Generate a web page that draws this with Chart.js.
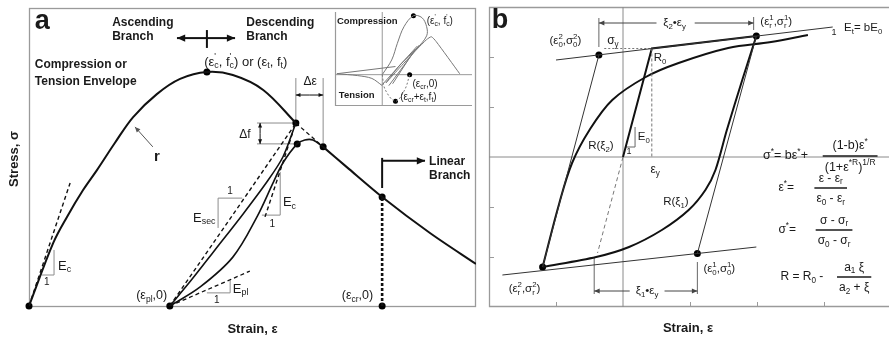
<!DOCTYPE html>
<html>
<head>
<meta charset="utf-8">
<title>Concrete and steel hysteresis models</title>
<script src="https://cdn.jsdelivr.net/npm/chart.js@4.4.1/dist/chart.umd.min.js"></script>
<style>
  html, body { margin:0; padding:0; background:#fff; }
  body { width:889px; height:339px; overflow:hidden; position:relative; }
  .panel { position:absolute; }
  canvas { display:block; }
</style>
</head>
<body>
<div class="panel" style="left:0;top:0"><canvas id="panelA" width="480" height="339"></canvas></div>
<div class="panel" style="left:480px;top:0"><canvas id="panelB" width="415" height="339"></canvas></div>
<div class="panel" style="left:331px;top:8px"><canvas id="inset" width="145" height="102"></canvas></div>
<script>
// ---- panel a : concrete model (strain, stress in arbitrary units) ----
var envelopeRise = [[0,0],[0.54,2.11],[0.85,2.99],[1.21,3.89],[1.52,4.56],[1.92,5.47],[2.33,6.34],[2.86,7.11],[3.38,7.62],[3.98,7.85],[4.56,7.75],[5.24,7.25],[5.97,6.14]];
var envelopeShift = [[5.97,6.14],[6.58,5.34]];
var envelopeFall = [[6.58,5.34],[7.11,4.66],[7.9,3.66],[8.97,2.45],[10,1.41]];
var unloading = [[5.97,6.14],[5.68,5.0],[5.32,4.16],[4.79,3.09],[4.16,1.88],[3.6,0.81],[3.15,0]];
var reloading = [[3.15,0],[3.83,0.64],[4.56,1.64],[5.1,2.99],[5.46,4.13],[5.68,4.8],[6.0,5.44],[6.17,5.57],[6.35,5.57],[6.58,5.34]];
var tangentInitial = [[0,0],[0.92,4.13]];
var secantLine = [[3.15,0],[5.93,6.04]];
var tangentReload = [[5.28,2.99],[5.91,5.87]];
var tangentPlastic = [[3.15,0],[4.94,1.17]];
var crackLine = [[7.9,0],[7.9,3.66]];
var keyPointsA = [[0,0],[3.98,7.85],[5.97,6.14],[6.0,5.44],[6.58,5.34],[7.9,3.66],[3.15,0],[7.9,0]];

// ---- inset : cyclic compression / tension ----
var insetLoop = [[0,0],[0.2,0.47],[0.32,1.0],[0.46,1.53],[0.66,1.88],[0.84,1.82],[0.94,1.53],[0.94,1.24],[0.74,0.85],[0.38,0.32],[0.08,-0.26]];
var insetSecondPeak = [[0.08,-0.26],[0.38,0.24],[0.74,0.82],[0.94,1.12],[1.04,1.21],[1.14,1.06],[1.64,0.03]];
var insetFanA = [[0,-0.32],[0.74,0.91]];
var insetFanB = [[0.14,-0.35],[0.78,0.94]];
var insetFanC = [[0.22,-0.29],[0.7,0.82]];
var insetTensionLow = [[-0.96,0.03],[-0.52,-0.03],[-0.22,-0.12],[0,-0.35]];
var insetTensionHigh = [[-0.96,0.03],[0.28,0.26]];
var insetTensionDrop = [[0,0],[0.06,-0.47],[0.28,-0.85],[0.48,-0.47],[0.58,0]];
var insetPoints = [[0.66,1.88],[0.58,0],[0.28,-0.85]];

// ---- panel b : Menegotto-Pinto steel ----
var asymptoteTop = [[-1.0,1.94],[3.13,2.6]];
var asymptoteBottom = [[-1.8,-2.36],[1.99,-1.8]];
var reversal2 = [[-0.36,2.04],[-1.2,-2.2]];
var reversal1 = [[1.11,-1.93],[1.99,2.42]];
var elasticBranch = [[0,0],[0.43,2.17],[1.99,2.42]];
var elasticExtension = [[0,0],[-0.38,-1.92]];
var yieldStressLine = [[-0.28,2.17],[0.43,2.17]];
var yieldStrainLine = [[0.43,2.17],[0.43,0]];
var curveXi2 = [[-1.2,-2.2],[-0.95,-0.92],[-0.76,-0.12],[-0.5,0.54],[-0.16,1.14],[0.34,1.6],[0.83,1.88],[1.57,2.18],[2.21,2.3],[2.76,2.44]];
var curveXi1 = [[-1.2,-2.2],[-0.4,-2.0],[0.09,-1.8],[0.58,-1.46],[0.98,-1.06],[1.23,-0.66],[1.38,-0.26],[1.55,0.54],[1.78,1.54],[1.99,2.42]];
var keyPointsB = [[-0.36,2.04],[-1.2,-2.2],[1.99,2.42],[1.11,-1.93]];
var tickStrain = [-1,1,2,3];
var tickStress = [-2,-1,1,2];

var FONT = '"Liberation Sans", Arial, Helvetica, sans-serif';
var INK = '#111';
var GREY = '#8c8c8c';

// annotations, panel a
var guidesA = [
  [[0.56,1.88],[0.56,1.04],[0.29,1.04]],
  [[4.23,2.62],[4.23,3.62],[4.77,3.62]],
  [[5.62,4.5],[5.62,3.05],[5.21,3.05]],
  [[4.5,0.87],[4.5,0.44],[3.98,0.44]],
  [[5.97,7.65],[5.97,6.24]],
  [[6.58,7.65],[6.58,5.47]],
  [[5.1,6.14],[5.97,6.14]],
  [[5.1,5.44],[6.0,5.44]]
];
var barsA = [[[3.98,9.26],[3.98,8.66]], [[7.9,4.97],[7.9,3.96]]];
var arrowsA = [
  {from:[3.98,8.99], to:[3.31,8.99], w:2, head:9},
  {from:[3.98,8.99], to:[4.61,8.99], w:2, head:9},
  {from:[6.28,7.08], to:[5.97,7.08], w:1, head:5},
  {from:[6.28,7.08], to:[6.58,7.08], w:1, head:5},
  {from:[5.17,5.79], to:[5.17,6.14], w:1, head:5},
  {from:[5.17,5.79], to:[5.17,5.44], w:1, head:5},
  {from:[2.77,5.34], to:[2.37,6.01], w:1, head:6, color:'#555'},
  {from:[7.9,4.87], to:[8.86,4.87], w:2, head:9}
];
var labelsA = [
  {text:'a', at:[0.13,9.56], size:27, weight:'bold'},
  {text:'Ascending', at:[1.86,9.5], size:12, weight:'bold'},
  {text:'Branch', at:[1.86,9.03], size:12, weight:'bold'},
  {text:'Descending', at:[4.86,9.5], size:12, weight:'bold'},
  {text:'Branch', at:[4.86,9.03], size:12, weight:'bold'},
  {text:"(ε^{'}_{c}, f^{'}_{c}) or (ε_{t}, f_{t})", at:[3.92,8.19], size:13},
  {text:'Compression or', at:[0.13,8.09], size:12, weight:'bold'},
  {text:'Tension Envelope', at:[0.13,7.52], size:12, weight:'bold'},
  {text:'r', at:[2.86,5.0], size:15, weight:'bold', align:'center'},
  {text:'Δε', at:[6.29,7.52], size:12, align:'center'},
  {text:'Δf', at:[4.83,5.74], size:12, align:'center'},
  {text:'E_{sec}', at:[3.67,2.95], size:13},
  {text:'1', at:[4.5,3.86], size:10, align:'center'},
  {text:'E_{c}', at:[5.68,3.46], size:13},
  {text:'1', at:[5.44,2.75], size:10, align:'center'},
  {text:'E_{pl}', at:[4.56,0.57], size:13},
  {text:'1', at:[4.2,0.2], size:10, align:'center'},
  {text:'E_{c}', at:[0.65,1.34], size:13},
  {text:'1', at:[0.4,0.8], size:10, align:'center'},
  {text:'(ε_{pl},0)', at:[3.09,0.34], size:12.5, align:'right'},
  {text:'(ε_{cr},0)', at:[7.7,0.34], size:12.5, align:'right'},
  {text:'Linear', at:[8.95,4.83], size:12, weight:'bold'},
  {text:'Branch', at:[8.95,4.36], size:12, weight:'bold'}
];
var labelsInset = [
  {text:'Compression', at:[-0.96,1.71], size:9.5, weight:'bold'},
  {text:'Tension', at:[-0.92,-0.65], size:9.5, weight:'bold'},
  {text:"(ε^{'}_{c}, f^{'}_{c})", at:[0.94,1.71], size:10},
  {text:'(ε_{cr},0)', at:[0.64,-0.29], size:10},
  {text:'(ε_{cr}+ε_{t},f_{t})', at:[0.38,-0.71], size:10}
];

// annotations, panel b
var guidesB = [
  [[-0.36,2.78],[-0.36,2.2]], [[1.95,2.8],[1.95,2.54]],
  [[-0.43,-2.02],[-0.43,-2.74]], [[1.11,-2.1],[1.11,-2.74]],
  [[0.04,0.2],[0.18,0.2],[0.18,0.6]]
];
var dimsB = [
  {y:2.68, from:-0.36, to:1.95, gap:[0.5,1.07]},
  {y:-2.68, from:-0.43, to:1.11, gap:[0.1,0.62]}
];
var labelsB = [
  {text:'b', at:[-1.96,2.72], size:27, weight:'bold'},
  {text:'(ε_{0}^{2},σ_{0}^{2})', at:[-0.86,2.32], size:11.5, align:'center'},
  {text:'σ_{y}', at:[-0.15,2.32], size:12, align:'center'},
  {text:'R_{0}', at:[0.46,1.98], size:11.5},
  {text:'E_{0}', at:[0.22,0.4], size:11.5},
  {text:'1', at:[0.09,0.1], size:9, align:'center'},
  {text:'ε_{y}', at:[0.48,-0.26], size:12, align:'center'},
  {text:'R(ξ_{2})', at:[-0.33,0.22], size:11.5, align:'center'},
  {text:'R(ξ_{1})', at:[0.79,-0.9], size:11.5, align:'center'},
  {text:'(ε_{0}^{1},σ_{0}^{1})', at:[1.2,-2.24], size:11.5},
  {text:'(ε_{r}^{2},σ_{r}^{2})', at:[-1.47,-2.64], size:11.5, align:'center'},
  {text:'(ε_{r}^{1},σ_{r}^{1})', at:[2.05,2.7], size:11.5},
  {text:'1', at:[3.15,2.48], size:9, align:'center'},
  {text:'E_{t}= bE_{0}', at:[3.3,2.58], size:11.5},
  {text:'ξ_{2}•ε_{y}', at:[0.77,2.68], size:11.5, align:'center'},
  {text:'ξ_{1}•ε_{y}', at:[0.36,-2.68], size:11.5, align:'center'}
];
var formulasB = [
  {lhs:'σ^{*}= bε^{*}+', at:[2.09,0.02], num:'(1-b)ε^{*}', den:'(1+ε^{*R})^{1/R}', bar:[3.39,0.02], size:12.5},
  {lhs:'ε^{*}=', at:[2.32,-0.62], num:'ε - ε_{r}', den:'ε_{0} - ε_{r}', bar:[3.1,-0.62], size:12},
  {lhs:'σ^{*}=', at:[2.32,-1.46], num:'σ - σ_{r}', den:'σ_{0} - σ_{r}', bar:[3.15,-1.46], size:12},
  {lhs:'R = R_{0} -', at:[2.35,-2.4], num:'a_{1} ξ', den:'a_{2} + ξ', bar:[3.45,-2.4], size:12}
];

// ---------- helpers ----------
function pts(arr){ return arr.map(function(p){ return {x:p[0], y:p[1]}; }); }
function curve(arr, color, width, dash, tension){
  return {data:pts(arr), showLine:true, borderColor:color, borderWidth:width, borderDash:dash || [],
          pointRadius:0, tension:tension || 0, fill:false};
}
function dots(arr, r){
  return {data:pts(arr), showLine:false, pointRadius:r, backgroundColor:'#000', borderWidth:0, clip:false};
}
function baseOptions(pad, xr, yr){
  return {
    responsive:false, animation:false, events:[],
    layout:{padding:pad},
    plugins:{legend:{display:false}, tooltip:{enabled:false}},
    scales:{
      x:{type:'linear', min:xr[0], max:xr[1], display:false},
      y:{type:'linear', min:yr[0], max:yr[1], display:false}
    }
  };
}
function toPx(chart, p){ return [chart.scales.x.getPixelForValue(p[0]), chart.scales.y.getPixelForValue(p[1])]; }

function parseRich(str){
  var segs = [], buf = '', i = 0;
  while (i < str.length){
    var c = str[i];
    if ((c == '_' || c == '^') && i + 1 < str.length){
      if (buf){ segs.push({t:buf, m:'n'}); buf = ''; }
      var m = c == '_' ? 'sub' : 'sup', t;
      if (str[i+1] == '{'){ var j = str.indexOf('}', i + 2); t = str.slice(i + 2, j); i = j + 1; }
      else { t = str[i+1]; i += 2; }
      segs.push({t:t, m:m});
    } else { buf += c; i++; }
  }
  if (buf) segs.push({t:buf, m:'n'});
  return segs;
}
function drawRich(ctx, str, px, py, size, align, weight, measureOnly){
  weight = weight || 'normal';
  var x = 0, items = [], prev = null;
  parseRich(str).forEach(function(s){
    var fs = s.m == 'n' ? size : size * 0.68;
    ctx.font = weight + ' ' + fs + 'px ' + FONT;
    var w = ctx.measureText(s.t).width, sx = x;
    if (prev && prev.m != 'n' && s.m != 'n' && prev.m != s.m){ sx = prev.x; x = Math.max(prev.x + prev.w, sx + w); }
    else x = sx + w;
    var it = {t:s.t, m:s.m, x:sx, w:w, fs:fs};
    items.push(it); prev = it;
  });
  if (measureOnly) return x;
  var x0 = align == 'center' ? px - x / 2 : align == 'right' ? px - x : px;
  ctx.textBaseline = 'middle'; ctx.textAlign = 'left';
  items.forEach(function(it){
    ctx.font = weight + ' ' + it.fs + 'px ' + FONT;
    var dy = it.m == 'sub' ? size * 0.3 : it.m == 'sup' ? -size * 0.38 : 0;
    ctx.fillText(it.t, x0 + it.x, py + dy);
  });
  return x;
}
function polyline(chart, line, color, width, dash){
  var ctx = chart.ctx;
  ctx.save();
  ctx.strokeStyle = color; ctx.lineWidth = width; ctx.setLineDash(dash || []);
  ctx.beginPath();
  line.forEach(function(p, i){ var q = toPx(chart, p); if (i) ctx.lineTo(q[0], q[1]); else ctx.moveTo(q[0], q[1]); });
  ctx.stroke();
  ctx.restore();
}
function arrow(chart, a){
  var color = a.color || INK;
  polyline(chart, [a.from, a.to], color, a.w);
  var p = toPx(chart, a.from), q = toPx(chart, a.to), ang = Math.atan2(q[1] - p[1], q[0] - p[0]);
  var ctx = chart.ctx;
  ctx.save(); ctx.fillStyle = color; ctx.beginPath();
  ctx.moveTo(q[0], q[1]);
  ctx.lineTo(q[0] - a.head * Math.cos(ang - 0.42), q[1] - a.head * Math.sin(ang - 0.42));
  ctx.lineTo(q[0] - a.head * Math.cos(ang + 0.42), q[1] - a.head * Math.sin(ang + 0.42));
  ctx.closePath(); ctx.fill(); ctx.restore();
}
function label(chart, l){
  var q = toPx(chart, l.at);
  chart.ctx.save();
  chart.ctx.fillStyle = l.color || '#1a1a1a';
  drawRich(chart.ctx, l.text, q[0], q[1], l.size, l.align || 'left', l.weight);
  chart.ctx.restore();
}

// ---------- panel a ----------
var decorA = {
  id:'decorA',
  beforeDatasetsDraw:function(chart){
    var ctx = chart.ctx, a = chart.chartArea;
    ctx.save();
    ctx.strokeStyle = '#9a9a9a'; ctx.lineWidth = 1.3;
    ctx.strokeRect(a.left + 0.5, a.top + 0.5, a.right - a.left - 1, a.bottom - a.top);
    ctx.restore();
    guidesA.forEach(function(g){ polyline(chart, g, GREY, 1); });
  },
  afterDatasetsDraw:function(chart){
    var ctx = chart.ctx, a = chart.chartArea;
    barsA.forEach(function(b){ polyline(chart, b, INK, 2); });
    arrowsA.forEach(function(ar){ arrow(chart, ar); });
    labelsA.forEach(function(l){ label(chart, l); });
    ctx.save();
    ctx.fillStyle = '#1a1a1a';
    drawRich(ctx, 'Strain, ε', (a.left + a.right) / 2, a.bottom + 23, 13, 'center', 'bold');
    ctx.translate(a.left - 15, (a.top + a.bottom) / 2 + 2);
    ctx.rotate(-Math.PI / 2);
    drawRich(ctx, 'Stress, σ', 0, 0, 13, 'center', 'bold');
    ctx.restore();
  }
};

new Chart(document.getElementById('panelA'), {
  type:'scatter',
  data:{datasets:[
    curve(envelopeRise, INK, 2, [], 0.35),
    curve(envelopeShift, INK, 1.3, [4, 3]),
    curve(envelopeFall, INK, 2, [], 0.3),
    curve(unloading, INK, 1.6, [], 0.3),
    curve(reloading, INK, 1.6, [], 0.35),
    curve(tangentInitial, INK, 1.4, [4, 3]),
    curve(secantLine, INK, 1.4, [4, 3]),
    curve(tangentReload, INK, 1.4, [4, 3]),
    curve(tangentPlastic, INK, 1.3, [4, 3]),
    curve(crackLine, INK, 2.6, [3, 2]),
    dots(keyPointsA, 3.5)
  ]},
  options:baseOptions({left:29, right:4, top:8, bottom:33}, [0, 10], [0, 10]),
  plugins:[decorA]
});

// ---------- inset ----------
var decorInset = {
  id:'decorInset',
  beforeDatasetsDraw:function(chart){
    var ctx = chart.ctx, a = chart.chartArea;
    ctx.save();
    ctx.strokeStyle = '#9a9a9a'; ctx.lineWidth = 1.2;
    ctx.beginPath();
    ctx.moveTo(a.left + 0.5, a.top); ctx.lineTo(a.left + 0.5, a.bottom - 0.5); ctx.lineTo(a.right, a.bottom - 0.5);
    ctx.stroke();
    ctx.restore();
    polyline(chart, [[0, -1], [0, 2]], '#9a9a9a', 1);
    polyline(chart, [[-1, 0], [1.9, 0]], '#9a9a9a', 1);
  },
  afterDatasetsDraw:function(chart){
    labelsInset.forEach(function(l){ label(chart, l); });
  }
};

new Chart(document.getElementById('inset'), {
  type:'scatter',
  data:{datasets:[
    curve(insetLoop, '#777', 1, [], 0.35),
    curve(insetSecondPeak, '#777', 1, [], 0.2),
    curve(insetFanA, '#777', 1),
    curve(insetFanB, '#777', 1),
    curve(insetFanC, '#777', 1),
    curve(insetTensionLow, '#777', 1, [], 0.3),
    curve(insetTensionHigh, '#777', 1),
    curve(insetTensionDrop, '#777', 1, [2, 2], 0.35),
    dots(insetPoints, 2.5)
  ]},
  options:baseOptions({left:0, right:0, top:0, bottom:0}, [-1, 1.9], [-1, 2]),
  plugins:[decorInset]
});

// ---------- panel b ----------
var decorB = {
  id:'decorB',
  beforeDatasetsDraw:function(chart){
    var ctx = chart.ctx, a = chart.chartArea, sx = chart.scales.x, sy = chart.scales.y;
    ctx.save();
    ctx.strokeStyle = '#9a9a9a'; ctx.lineWidth = 1.3;
    ctx.beginPath();
    ctx.moveTo(a.right + 5, a.top + 0.5); ctx.lineTo(a.left + 0.5, a.top + 0.5);
    ctx.lineTo(a.left + 0.5, a.bottom - 0.5); ctx.lineTo(a.right + 5, a.bottom - 0.5);
    ctx.stroke();
    ctx.lineWidth = 1;
    ctx.beginPath();
    tickStrain.forEach(function(v){ var x = Math.round(sx.getPixelForValue(v)) + 0.5; ctx.moveTo(x, a.bottom); ctx.lineTo(x, a.bottom - 5); });
    tickStress.forEach(function(v){ var y = Math.round(sy.getPixelForValue(v)) + 0.5; ctx.moveTo(a.left, y); ctx.lineTo(a.left + 5, y); });
    ctx.stroke();
    ctx.restore();
    polyline(chart, [[0, -3], [0, 3]], '#8a8a8a', 1);
    polyline(chart, [[-2, 0], [4, 0]], '#8a8a8a', 1);
    guidesB.forEach(function(g){ polyline(chart, g, '#666', 1); });
  },
  afterDatasetsDraw:function(chart){
    var ctx = chart.ctx, a = chart.chartArea;
    dimsB.forEach(function(d){
      arrow(chart, {from:[d.gap[0], d.y], to:[d.from, d.y], w:1, head:6, color:'#444'});
      arrow(chart, {from:[d.gap[1], d.y], to:[d.to, d.y], w:1, head:6, color:'#444'});
    });
    labelsB.forEach(function(l){ label(chart, l); });
    ctx.save();
    ctx.fillStyle = '#1a1a1a'; ctx.strokeStyle = '#1a1a1a';
    formulasB.forEach(function(f){
      var p = toPx(chart, f.at), b = toPx(chart, f.bar), size = f.size;
      drawRich(ctx, f.lhs, p[0], p[1], size, 'left');
      var wn = drawRich(ctx, f.num, 0, 0, size, 'center', 'normal', true);
      var wd = drawRich(ctx, f.den, 0, 0, size, 'center', 'normal', true);
      var half = Math.max(wn, wd) / 2 + 2;
      drawRich(ctx, f.num, b[0], b[1] - size * 0.8, size, 'center');
      drawRich(ctx, f.den, b[0], b[1] + size * 0.9, size, 'center');
      ctx.lineWidth = 1.3;
      ctx.beginPath(); ctx.moveTo(b[0] - half, b[1]); ctx.lineTo(b[0] + half, b[1]); ctx.stroke();
    });
    drawRich(ctx, 'Strain, ε', 208, a.bottom + 21, 13, 'center', 'bold');
    ctx.restore();
  }
};

new Chart(document.getElementById('panelB'), {
  type:'scatter',
  data:{datasets:[
    curve(asymptoteTop, '#333', 1),
    curve(asymptoteBottom, '#333', 1),
    curve(reversal2, '#333', 1),
    curve(reversal1, '#333', 1),
    curve(elasticExtension, '#777', 1, [4, 3]),
    curve(yieldStressLine, '#777', 1, [2, 2]),
    curve(yieldStrainLine, '#777', 1, [3, 2]),
    curve(elasticBranch, INK, 2),
    curve(curveXi2, INK, 2, [], 0.35),
    curve(curveXi1, INK, 2, [], 0.3),
    dots(keyPointsB, 3.5)
  ]},
  options:baseOptions({left:9, right:2, top:7, bottom:32}, [-2, 4], [-3, 3]),
  plugins:[decorB]
});
</script>
</body>
</html>
